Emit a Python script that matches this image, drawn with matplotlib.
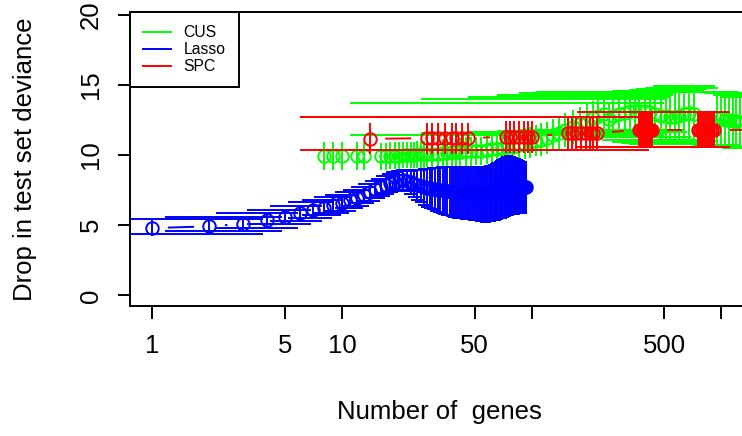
import numpy as np
import matplotlib
matplotlib.use('Agg')
import matplotlib.pyplot as plt
from matplotlib.collections import LineCollection
from matplotlib.lines import Line2D

plt.rcParams['font.family'] = ['Liberation Sans', 'DejaVu Sans']

# ---- data ----
# Lasso: one point per model size
lasso_x = list(range(1, 94))
lasso_y = [4.80, 4.92, 5.10, 5.35, 5.58, 5.84, 6.10, 6.25, 6.45, 6.60,
           6.80, 6.95, 7.15, 7.35, 7.55, 7.70, 7.85, 8.00, 8.10, 8.18,
           8.20, 8.15, 8.05, 7.95, 7.85, 7.78, 7.72, 7.66, 7.62, 7.58,
           7.55, 7.52, 7.50, 7.48, 7.46, 7.44, 7.42, 7.40, 7.38, 7.36,
           7.34, 7.33, 7.32, 7.31, 7.30, 7.29, 7.28, 7.27, 7.26, 7.25,
           7.24, 7.23, 7.22, 7.21, 7.20, 7.20, 7.21, 7.22, 7.24, 7.26,
           7.29, 7.32, 7.36, 7.40, 7.44, 7.48, 7.52, 7.56, 7.60, 7.64,
           7.68, 7.71, 7.74, 7.76, 7.78, 7.80, 7.81, 7.82, 7.82, 7.82,
           7.81, 7.80, 7.79, 7.78, 7.77, 7.76, 7.75, 7.74, 7.73, 7.72,
           7.71, 7.70, 7.70]
lasso_se = [0.55, 0.52, 0.52, 0.52, 0.52, 0.53, 0.55, 0.55, 0.56, 0.56,
            0.58, 0.58, 0.60, 0.60, 0.62, 0.62, 0.64, 0.65, 0.66, 0.68,
            0.70, 0.72, 0.80, 0.95, 1.05, 1.15, 1.25, 1.33, 1.40, 1.46,
            1.52, 1.57, 1.62, 1.66, 1.70, 1.73, 1.76, 1.78, 1.80, 1.82,
            1.83, 1.84, 1.84, 1.85, 1.85, 1.86, 1.86, 1.87, 1.88, 1.89,
            1.90, 1.91, 1.92, 1.93, 1.94, 1.95, 1.96, 1.97, 1.98, 1.99,
            2.00, 2.02, 2.04, 2.06, 2.08, 2.10, 2.12, 2.14, 2.15, 2.16,
            2.17, 2.17, 2.16, 2.15, 2.14, 2.12, 2.10, 2.08, 2.06, 2.04,
            2.02, 2.00, 1.98, 1.96, 1.94, 1.92, 1.90, 1.88, 1.86, 1.85,
            1.84, 1.83, 1.82]

# SPC
spc_x = [14, 28, 30, 32, 35, 38, 40, 43, 46,
         73, 77, 81, 86, 91, 96, 100,
         155, 163, 172, 182, 193, 203, 212, 220,
         370, 375, 380, 385, 390, 395, 400, 405, 410, 415, 420, 425, 430,
         752, 770, 790, 810, 830, 850, 870, 895, 920, 2000]
spc_y = [11.15, 11.2, 11.2, 11.2, 11.2, 11.2, 11.2, 11.2, 11.2,
         11.3, 11.3, 11.3, 11.3, 11.3, 11.3, 11.3,
         11.55, 11.55, 11.55, 11.55, 11.55, 11.55, 11.55, 11.55,
         11.8, 11.8, 11.8, 11.8, 11.8, 11.8, 11.8, 11.8, 11.8, 11.8, 11.8, 11.8, 11.8,
         11.8, 11.8, 11.8, 11.8, 11.8, 11.8, 11.8, 11.8, 11.8, 11.8]
spc_se = [1.1, 1.1, 1.1, 1.1, 1.1, 1.1, 1.1, 1.1, 1.1,
          1.15, 1.15, 1.15, 1.15, 1.15, 1.15, 1.15,
          1.17, 1.17, 1.17, 1.17, 1.17, 1.17, 1.17, 1.17,
          1.25, 1.25, 1.25, 1.25, 1.25, 1.25, 1.25, 1.25, 1.25, 1.25, 1.25, 1.25, 1.25,
          1.25, 1.25, 1.25, 1.25, 1.25, 1.25, 1.25, 1.25, 1.25, 1.25]

# CUS
cus_x = [8, 9, 10, 12, 13,
         16, 17, 18, 19, 20, 21, 22, 23, 24, 25, 26, 27, 28,
         30, 32, 34, 36, 38, 40, 42, 45, 48, 51, 54, 58,
         62, 66, 70, 75, 80, 86, 92, 98, 105, 112, 120, 130, 140, 150,
         165, 180, 195, 210, 225, 240,
         255, 270, 290, 310, 330, 350, 370, 395, 420,
         450, 480, 510, 540, 570, 600, 640, 680, 720,
         950, 1000, 1050, 1100, 1150, 1200, 1250]
cus_y = [9.9, 9.9, 9.9, 9.9, 9.95,
         9.9, 9.9, 9.95, 9.95, 9.95, 10.0, 10.0, 10.0, 10.0, 10.05, 10.05, 10.05, 10.1,
         10.1, 10.1, 10.15, 10.15, 10.2, 10.2, 10.2, 10.25, 10.25, 10.3, 10.3, 10.35,
         10.4, 10.45, 10.5, 10.55, 10.6, 10.7, 10.8, 10.9, 11.0, 11.1, 11.2, 11.4, 11.6, 11.8,
         12.0, 12.2, 12.35, 12.6, 12.8, 12.9,
         12.55, 12.8, 12.9, 13.0, 13.1, 13.15, 13.15, 13.1, 13.05,
         12.9, 12.8, 12.75, 12.7, 12.7, 12.8, 12.9, 13.0, 12.9,
         12.6, 12.6, 12.5, 12.5, 12.4, 12.4, 12.3]
cus_se = [1.0, 1.0, 1.0, 1.0, 1.0,
          0.95, 0.95, 0.95, 0.95, 0.95, 0.95, 0.95, 0.95, 0.95, 0.95, 0.95, 0.95, 0.95,
          1.0, 1.0, 1.0, 1.0, 1.0, 1.0, 1.0, 1.0, 1.0, 1.0, 1.0, 1.0,
          1.0, 1.0, 1.05, 1.05, 1.05, 1.1, 1.1, 1.1, 1.1, 1.15, 1.15, 1.15, 1.2, 1.2,
          1.2, 1.2, 1.25, 1.25, 1.3, 1.3,
          1.15, 1.2, 1.25, 1.3, 1.3, 1.35, 1.35, 1.35, 1.4,
          1.6, 1.7, 1.8, 1.85, 1.9, 1.9, 1.9, 1.9, 1.9,
          1.9, 1.9, 1.9, 1.9, 1.85, 1.85, 1.8]

# half width of the error bar caps (linear units of x, like R's error.bars)
cap_w = {'CUS': 244.0, 'Lasso': 1.84, 'SPC': 197.0}
colors = {'CUS': '#00ff00', 'Lasso': '#0000ff', 'SPC': '#ff0000'}

LW = 1.4

fig = plt.figure(figsize=(7.42, 4.36), dpi=100)
ax = fig.add_axes([130 / 742, 130 / 436, 619.6 / 742, 294 / 436])
ax.set_xscale('log')
ax.set_xlim(0.762, 1412)
ax.set_ylim(-0.75, 20.18)


def gapped_line(ax, x, y, color, gap=15.5):
    # R type="b": lines broken around the points
    pts = ax.transData.transform(np.column_stack([x, y]))
    inv = ax.transData.inverted()
    segs = []
    for p0, p1 in zip(pts[:-1], pts[1:]):
        d = np.hypot(*(p1 - p0))
        if d > 2 * gap:
            u = (p1 - p0) / d
            segs.append([inv.transform(p0 + u * gap), inv.transform(p1 - u * gap)])
    ax.add_collection(LineCollection(segs, colors=color, linewidths=LW))


def draw_series(name, x, y, se):
    x = np.asarray(x, float)
    y = np.asarray(y, float)
    se = np.asarray(se, float)
    c = colors[name]
    w = cap_w[name]
    gapped_line(ax, x, y, c)
    ax.plot(x, y, 'o', mfc='none', mec=c, ms=9, mew=LW)
    ax.vlines(x, y - se, y + se, colors=c, lw=LW)
    keep = x - w > 0
    ax.hlines(y[keep] + se[keep], x[keep] - w, x[keep] + w, colors=c, lw=LW)
    ax.hlines(y[keep] - se[keep], x[keep] - w, x[keep] + w, colors=c, lw=LW)


draw_series('CUS', cus_x, cus_y, cus_se)
draw_series('Lasso', lasso_x, lasso_y, lasso_se)
draw_series('SPC', spc_x, spc_y, spc_se)

# axes in R base style
for s in ax.spines.values():
    s.set_linewidth(LW)
ax.set_xticks([1, 5, 10, 50, 100, 500, 1000])
ax.set_xticklabels(['1', '5', '10', '50', '', '500', ''])
ax.xaxis.set_minor_locator(matplotlib.ticker.NullLocator())
ax.set_yticks([0, 5, 10, 15, 20])
ax.set_yticklabels(['0', '5', '10', '15', '20'], rotation=90, va='center')
ax.tick_params(axis='both', direction='out', length=9, width=LW, labelsize=18.5)
ax.tick_params(axis='x', pad=11)
ax.tick_params(axis='y', pad=10.5)

ax.set_xlabel('Number of  genes', fontsize=18.5, va='baseline')
ax.xaxis.set_label_coords(0.5, -(419 - 306) / 294)
ax.set_ylabel('Drop in test set deviance', fontsize=18.5, va='baseline')
ax.yaxis.set_label_coords(-(130 - 32) / 619.6, 0.5)

handles = [Line2D([], [], color=colors[k], lw=LW) for k in ['CUS', 'Lasso', 'SPC']]
leg = ax.legend(handles, ['CUS', 'Lasso', 'SPC'], loc='upper left',
                bbox_to_anchor=(0, 1), borderaxespad=0, fancybox=False,
                edgecolor='black', framealpha=1, fontsize=11.3,
                handlelength=1.75, handletextpad=0.8, borderpad=0.85,
                labelspacing=0.12)
leg.get_frame().set_linewidth(LW)

fig.savefig('out.png', dpi=100)
